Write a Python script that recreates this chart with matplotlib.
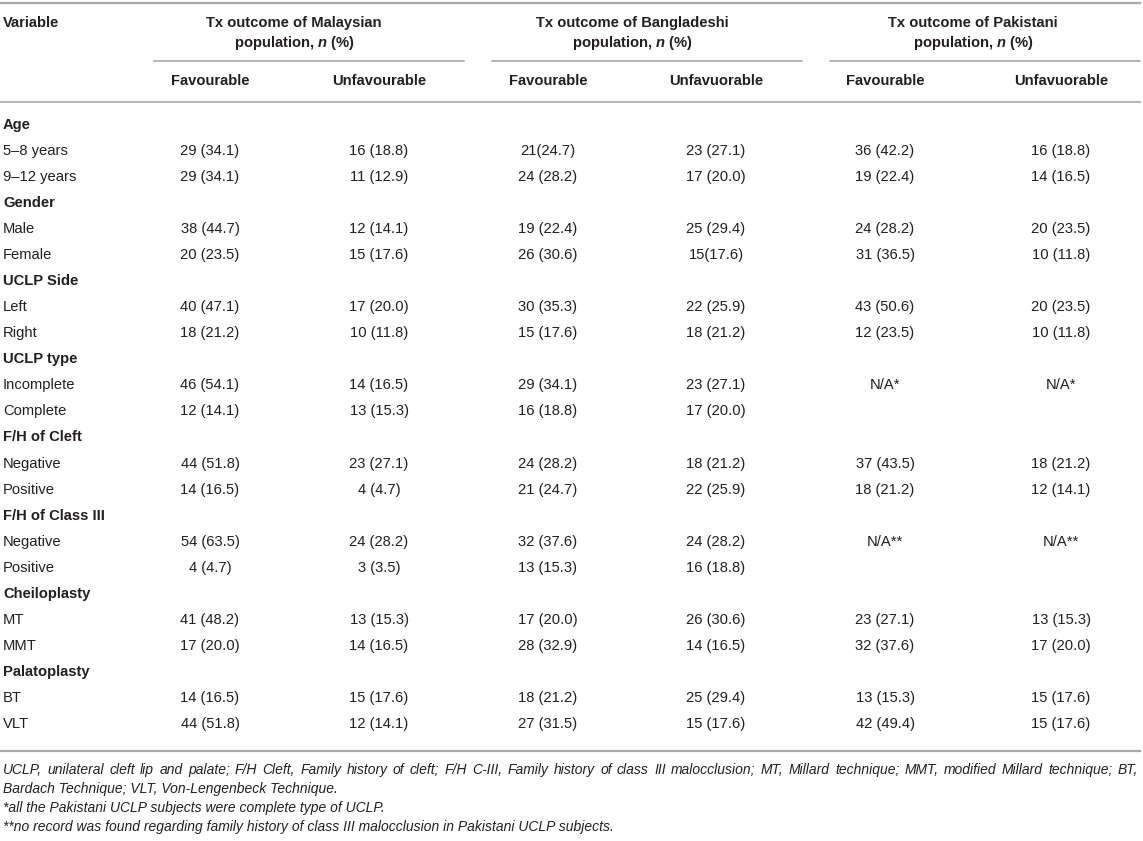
import matplotlib
matplotlib.use("Agg")
import matplotlib.pyplot as plt

plt.rcParams['font.family'] = ['Liberation Sans', 'DejaVu Sans']
plt.rcParams['mathtext.fontset'] = 'custom'
plt.rcParams['mathtext.it'] = 'Liberation Sans:italic:bold'
plt.rcParams['mathtext.rm'] = 'Liberation Sans:bold'

# table contents
groups = ['Tx outcome of Malaysian', 'Tx outcome of Bangladeshi', 'Tx outcome of Pakistani']
sub_headers = ['Favourable', 'Unfavourable', 'Favourable', 'Unfavuorable', 'Favourable', 'Unfavuorable']

row_labels = ['Age', '5–8 years', '9–12 years',
              'Gender', 'Male', 'Female',
              'UCLP Side', 'Left', 'Right',
              'UCLP type', 'Incomplete', 'Complete',
              'F/H of Cleft', 'Negative', 'Positive',
              'F/H of Class III', 'Negative', 'Positive',
              'Cheiloplasty', 'MT', 'MMT',
              'Palatoplasty', 'BT', 'VLT']
section_rows = [0, 3, 6, 9, 12, 15, 18, 21]

malaysia_fav = ['', '29 (34.1)', '29 (34.1)', '', '38 (44.7)', '20 (23.5)', '', '40 (47.1)', '18 (21.2)',
                '', '46 (54.1)', '12 (14.1)', '', '44 (51.8)', '14 (16.5)', '', '54 (63.5)', '4 (4.7)',
                '', '41 (48.2)', '17 (20.0)', '', '14 (16.5)', '44 (51.8)']
malaysia_unfav = ['', '16 (18.8)', '11 (12.9)', '', '12 (14.1)', '15 (17.6)', '', '17 (20.0)', '10 (11.8)',
                  '', '14 (16.5)', '13 (15.3)', '', '23 (27.1)', '4 (4.7)', '', '24 (28.2)', '3 (3.5)',
                  '', '13 (15.3)', '14 (16.5)', '', '15 (17.6)', '12 (14.1)']
bangla_fav = ['', '21(24.7)', '24 (28.2)', '', '19 (22.4)', '26 (30.6)', '', '30 (35.3)', '15 (17.6)',
              '', '29 (34.1)', '16 (18.8)', '', '24 (28.2)', '21 (24.7)', '', '32 (37.6)', '13 (15.3)',
              '', '17 (20.0)', '28 (32.9)', '', '18 (21.2)', '27 (31.5)']
bangla_unfav = ['', '23 (27.1)', '17 (20.0)', '', '25 (29.4)', '15(17.6)', '', '22 (25.9)', '18 (21.2)',
                '', '23 (27.1)', '17 (20.0)', '', '18 (21.2)', '22 (25.9)', '', '24 (28.2)', '16 (18.8)',
                '', '26 (30.6)', '14 (16.5)', '', '25 (29.4)', '15 (17.6)']
pak_fav = ['', '36 (42.2)', '19 (22.4)', '', '24 (28.2)', '31 (36.5)', '', '43 (50.6)', '12 (23.5)',
           '', 'N/A*', '', '', '37 (43.5)', '18 (21.2)', '', 'N/A**', '',
           '', '23 (27.1)', '32 (37.6)', '', '13 (15.3)', '42 (49.4)']
pak_unfav = ['', '16 (18.8)', '14 (16.5)', '', '20 (23.5)', '10 (11.8)', '', '20 (23.5)', '10 (11.8)',
             '', 'N/A*', '', '', '18 (21.2)', '12 (14.1)', '', 'N/A**', '',
             '', '13 (15.3)', '17 (20.0)', '', '15 (17.6)', '15 (17.6)']

footnotes = [
    'UCLP, unilateral cleft lip and palate; F/H Cleft, Family history of cleft; F/H C-III, Family history of '
    'class III malocclusion; MT, Millard technique; MMT, modified Millard technique; BT,',
    'Bardach Technique; VLT, Von-Lengenbeck Technique.',
    '*all the Pakistani UCLP subjects were complete type of UCLP.',
    '**no record was found regarding family history of class III malocclusion in Pakistani UCLP subjects.',
]

columns = [malaysia_fav, malaysia_unfav, bangla_fav, bangla_unfav, pak_fav, pak_unfav]

# layout in pixels
W, H = 1143, 841
col_x = [210, 379, 548, 716, 885, 1061]
group_x = [294, 632, 973]
group_lines = [(154, 464), (492, 802), (830, 1140)]
row_y0, row_dy = 125, 26.04
txt = '#231f20'
rule = '#a9a9a9'
fs = 10.6
ffs = 10.0

fig = plt.figure(figsize=(W / 100, H / 100), dpi=100)
ax = fig.add_axes([0, 0, 1, 1])
ax.set_xlim(0, W)
ax.set_ylim(H, 0)
ax.axis('off')

# rules
ax.plot([0, 1140], [3, 3], color=rule, lw=1.6)
for x0, x1 in group_lines:
    ax.plot([x0, x1], [61, 61], color=rule, lw=1.2)
ax.plot([0, 1140], [102, 102], color=rule, lw=1.2)
ax.plot([0, 1140], [751, 751], color=rule, lw=1.6)

# header
ax.text(3, 23, 'Variable', fontsize=fs, fontweight='bold', color=txt, va='center', ha='left')
for g, gx in zip(groups, group_x):
    ax.text(gx, 23, g, fontsize=fs, fontweight='bold', color=txt, va='center', ha='center')
    ax.text(gx, 43, 'population, $n$ (%)', fontsize=fs, fontweight='bold', color=txt,
            va='center', ha='center')
for s, cx in zip(sub_headers, col_x):
    ax.text(cx, 81, s, fontsize=fs, fontweight='bold', color=txt, va='center', ha='center')

# body
for i, lab in enumerate(row_labels):
    y = row_y0 + i * row_dy
    bold = i in section_rows
    ax.text(3, y, lab, fontsize=fs, fontweight='bold' if bold else 'normal',
            color=txt, va='center', ha='left')
    for col, cx in zip(columns, col_x):
        if col[i]:
            ax.text(cx, y, col[i], fontsize=fs, color=txt, va='center', ha='center')

# footnotes (first line justified to the table width)
foot_y = [770, 789, 808, 827]
renderer = fig.canvas.get_renderer()
words = footnotes[0].split(' ')
items = [ax.text(0, foot_y[0], w, fontsize=ffs, style='italic', color=txt, va='center', ha='left')
         for w in words]
widths = [t.get_window_extent(renderer).width for t in items]
gap = (1138 - 3 - sum(widths)) / (len(words) - 1)
x = 3
for t, w in zip(items, widths):
    t.set_x(x)
    x += w + gap
for line, fy in zip(footnotes[1:], foot_y[1:]):
    ax.text(3, fy, line, fontsize=ffs, style='italic', color=txt, va='center', ha='left')

fig.savefig('out.png', dpi=100)
